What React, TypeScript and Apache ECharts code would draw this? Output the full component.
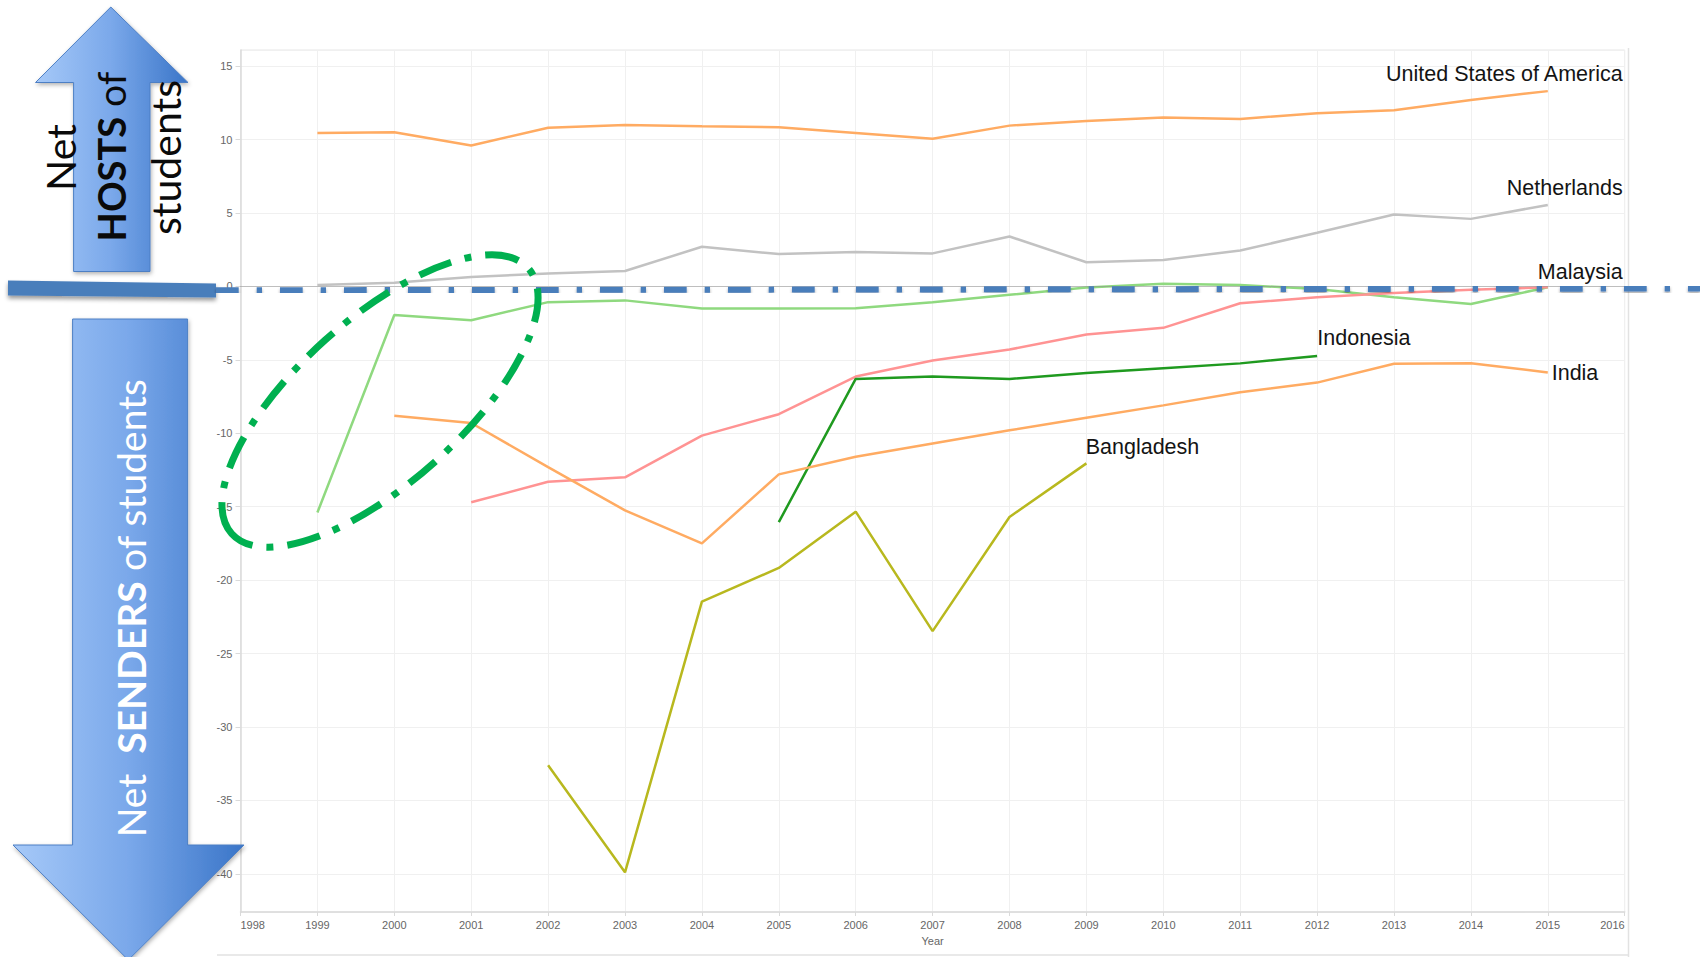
import React, { useEffect, useRef } from 'react';
import * as echarts from 'echarts';

// ---------- data ----------
const years = ['1998', '1999', '2000', '2001', '2002', '2003', '2004', '2005', '2006', '2007', '2008', '2009', '2010', '2011', '2012', '2013', '2014', '2015', '2016'];

const usa = [null, 10.45, 10.5, 9.6, 10.8, 11.0, 10.9, 10.84, 10.45, 10.05, 10.95, 11.27, 11.5, 11.4, 11.8, 12.0, 12.7, 13.3, null];
const netherlands = [null, 0.1, 0.25, 0.65, 0.88, 1.05, 2.7, 2.2, 2.35, 2.25, 3.4, 1.65, 1.8, 2.45, 3.65, 4.9, 4.6, 5.55, null];
const malaysia = [null, -15.4, -1.95, -2.3, -1.07, -0.95, -1.5, -1.5, -1.48, -1.07, -0.57, -0.07, 0.18, 0.1, -0.18, -0.73, -1.2, -0.05, null];
const unlabelled = [null, null, null, -14.7, -13.3, -13.0, -10.16, -8.7, -6.14, -5.05, -4.3, -3.27, -2.82, -1.15, -0.73, -0.45, -0.23, -0.05, null];
const indonesia = [null, null, null, null, null, null, null, -16.05, -6.3, -6.14, -6.3, -5.9, -5.57, -5.24, -4.73, null, null, null, null];
const india = [null, null, -8.8, -9.3, -12.3, -15.25, -17.5, -12.8, -11.6, -10.7, -9.8, -8.95, -8.1, -7.2, -6.55, -5.27, -5.23, -5.86, null];
const bangladesh = [null, null, null, null, -32.6, -39.9, -21.47, -19.17, -15.34, -23.47, -15.7, -12.05, null, null, null, null, null, null, null];

const seriesNames = ['United States of America', 'Netherlands', 'Malaysia', 'Unlabelled', 'Indonesia', 'India', 'Bangladesh'];
const seriesData = [usa, netherlands, malaysia, unlabelled, indonesia, india, bangladesh];
const seriesColors = ['#ffab62', '#c2c2c2', '#8fd97f', '#ff9393', '#1f9a1f', '#ffab62', '#b8b81e'];

const yMin = -42.6;
const yMax = 16.1;

// ---------- styling helpers ----------
const labelFont = '"Liberation Sans", Arial, sans-serif';
const arrowFont = 'Lato, "Open Sans", sans-serif';

const blueGradient = () =>
  new echarts.graphic.LinearGradient(0, 0, 1, 0, [
    { offset: 0, color: '#a6c9f8' },
    { offset: 0.5, color: '#7aa8ea' },
    { offset: 1, color: '#3a75c8' },
  ]);

function buildOption() {
  const series: any[] = seriesNames.map((name, i) => ({
    name,
    type: 'line',
    data: seriesData[i],
    symbol: 'none',
    connectNulls: false,
    lineStyle: { color: seriesColors[i], width: 2.5 },
    itemStyle: { color: seriesColors[i] },
    z: 3,
  }));
  series[0].markLine = {
    silent: true,
    symbol: ['none', 'none'],
    label: { show: false },
    lineStyle: { type: 'dotted', color: '#8c8c8c', width: 1 },
    data: [{ yAxis: 0 }],
  };

  const countryLabel = (text: string, x: number, y: number, align: string) => ({
    type: 'text',
    x,
    y,
    z: 20,
    style: {
      text,
      x: 0,
      y: 0,
      font: `21.5px ${labelFont}`,
      fill: '#141414',
      align,
      verticalAlign: 'middle',
    },
  });

  const graphic: any[] = [
    // outer worksheet lines
    { type: 'line', z: 1, shape: { x1: 217, y1: 955, x2: 1628, y2: 955 }, style: { stroke: '#e2e2e2', lineWidth: 1.5 } },
    { type: 'line', z: 1, shape: { x1: 1628.5, y1: 48, x2: 1628.5, y2: 957 }, style: { stroke: '#e2e2e2', lineWidth: 1.5 } },

    // up arrow
    {
      type: 'polygon',
      z: 10,
      shape: {
        points: [
          [110.8, 7],
          [188, 82.5],
          [150, 82.5],
          [150, 271.5],
          [73.6, 271.5],
          [73.6, 82.5],
          [35.5, 82.5],
        ],
      },
      style: {
        fill: blueGradient(),
        stroke: '#4d7fc4',
        lineWidth: 1,
        shadowBlur: 4,
        shadowOffsetX: 1,
        shadowOffsetY: 2,
        shadowColor: 'rgba(0,0,0,0.3)',
      },
    },
    // down arrow
    {
      type: 'polygon',
      z: 10,
      shape: {
        points: [
          [72.6, 319],
          [187.6, 319],
          [187.6, 845],
          [244, 845],
          [128.3, 960],
          [13, 845],
          [72.6, 845],
        ],
      },
      style: {
        fill: blueGradient(),
        stroke: '#4d7fc4',
        lineWidth: 1,
        shadowBlur: 4,
        shadowOffsetX: 1,
        shadowOffsetY: 2,
        shadowColor: 'rgba(0,0,0,0.3)',
      },
    },
    // up arrow texts
    {
      type: 'text',
      x: 60,
      y: 157.5,
      rotation: Math.PI / 2,
      z: 12,
      style: { text: 'Net', x: 0, y: 0, font: `41px ${arrowFont}`, fill: '#0a0a0a', align: 'center', verticalAlign: 'middle' },
    },
    {
      type: 'text',
      x: 111,
      y: 156.5,
      rotation: Math.PI / 2,
      z: 12,
      style: {
        text: '{b|HOSTS}{r| of}',
        x: 0,
        y: 0,
        align: 'center',
        verticalAlign: 'middle',
        rich: {
          b: { fontFamily: arrowFont, fontSize: 38, fontWeight: 'bold', fill: '#0a0a0a' },
          r: { fontFamily: arrowFont, fontSize: 39, fill: '#0a0a0a' },
        },
      },
    },
    {
      type: 'text',
      x: 165.5,
      y: 157.5,
      rotation: Math.PI / 2,
      z: 12,
      style: { text: 'students', x: 0, y: 0, font: `41px ${arrowFont}`, fill: '#0a0a0a', align: 'center', verticalAlign: 'middle' },
    },
    // down arrow text
    {
      type: 'text',
      x: 131,
      y: 608,
      rotation: Math.PI / 2,
      z: 12,
      style: {
        text: '{r|Net  }{b|SENDERS}{r| of students}',
        x: 0,
        y: 0,
        align: 'center',
        verticalAlign: 'middle',
        rich: {
          b: { fontFamily: arrowFont, fontSize: 39, fontWeight: 'bold', fill: '#ffffff' },
          r: { fontFamily: arrowFont, fontSize: 39, fill: '#ffffff' },
        },
      },
    },
    // thick horizontal bar on the left
    {
      type: 'polygon',
      z: 14,
      shape: { points: [[8, 280.5], [216, 283.5], [216, 297.5], [8, 295.5]] },
      style: {
        fill: '#4a7ebb',
        shadowBlur: 4,
        shadowOffsetY: 3,
        shadowColor: 'rgba(0,0,0,0.4)',
      },
    },
    // dash-dot zero overlay line
    {
      type: 'line',
      z: 14,
      shape: { x1: 216, y1: 290.3, x2: 1700, y2: 288.5 },
      style: {
        stroke: '#4a7ebb',
        lineWidth: 6,
        lineDash: [22.7, 18, 5.3, 18],
        lineCap: 'butt',
        shadowBlur: 3,
        shadowOffsetY: 2,
        shadowColor: 'rgba(0,0,0,0.35)',
      },
    },
    // green dash-dot ellipse
    {
      type: 'ellipse',
      z: 15,
      x: 380,
      y: 401,
      rotation: 0.73,
      shape: { cx: 0, cy: 0, rx: 199, ry: 82 },
      style: {
        fill: 'none',
        stroke: '#00b050',
        lineWidth: 7,
        lineDash: [34, 14, 7, 14],
        lineCap: 'butt',
      },
    },
    // country labels
    countryLabel('United States of America', 1622.7, 74, 'right'),
    countryLabel('Netherlands', 1622.7, 188, 'right'),
    countryLabel('Malaysia', 1622.7, 271.5, 'right'),
    countryLabel('Indonesia', 1317.3, 338, 'left'),
    countryLabel('India', 1551.7, 372.5, 'left'),
    countryLabel('Bangladesh', 1085.7, 446.7, 'left'),
  ];

  return {
    animation: false,
    backgroundColor: '#ffffff',
    grid: {
      left: 240.5,
      right: 75.3,
      top: 50,
      bottom: 45,
      show: true,
      borderColor: '#e6e6e6',
      borderWidth: 1,
      containLabel: false,
    },
    xAxis: {
      type: 'category',
      data: years,
      boundaryGap: false,
      name: 'Year',
      nameLocation: 'middle',
      nameGap: 23,
      nameTextStyle: { color: '#666', fontSize: 11, fontFamily: labelFont },
      axisLine: { show: true, onZero: false, lineStyle: { color: '#dadada', width: 1.5 } },
      axisTick: { show: true, length: 4, interval: 0, lineStyle: { color: '#dadada' } },
      axisLabel: {
        interval: 0,
        color: '#666',
        fontSize: 11,
        fontFamily: labelFont,
        margin: 7,
        alignMinLabel: 'left',
        alignMaxLabel: 'right',
      },
      splitLine: { show: true, interval: 0, lineStyle: { color: '#f0f0f0', width: 1 } },
    },
    yAxis: {
      type: 'value',
      min: yMin,
      max: yMax,
      splitNumber: 12,
      axisLine: { show: true, lineStyle: { color: '#dadada', width: 1.5 } },
      axisTick: { show: true, length: 5, lineStyle: { color: '#dadada' } },
      axisLabel: {
        color: '#666',
        fontSize: 11,
        fontFamily: labelFont,
        margin: 8,
        showMinLabel: false,
        showMaxLabel: false,
        formatter: (v: number) => (Math.abs(v % 5) < 1e-6 ? String(v) : ''),
      },
      splitLine: { show: true, lineStyle: { color: '#f0f0f0', width: 1 } },
    },
    series,
    graphic,
  };
}

export default function App() {
  const ref = useRef<HTMLDivElement>(null);
  useEffect(() => {
    if (!ref.current) return;
    const chart = echarts.init(ref.current, null, { renderer: 'svg' });
    chart.setOption(buildOption() as any);
    return () => chart.dispose();
  }, []);
  return (
    <div
      ref={ref}
      style={{ position: 'absolute', left: 0, top: 0, width: 1700, height: 957, background: '#fff' }}
    />
  );
}
